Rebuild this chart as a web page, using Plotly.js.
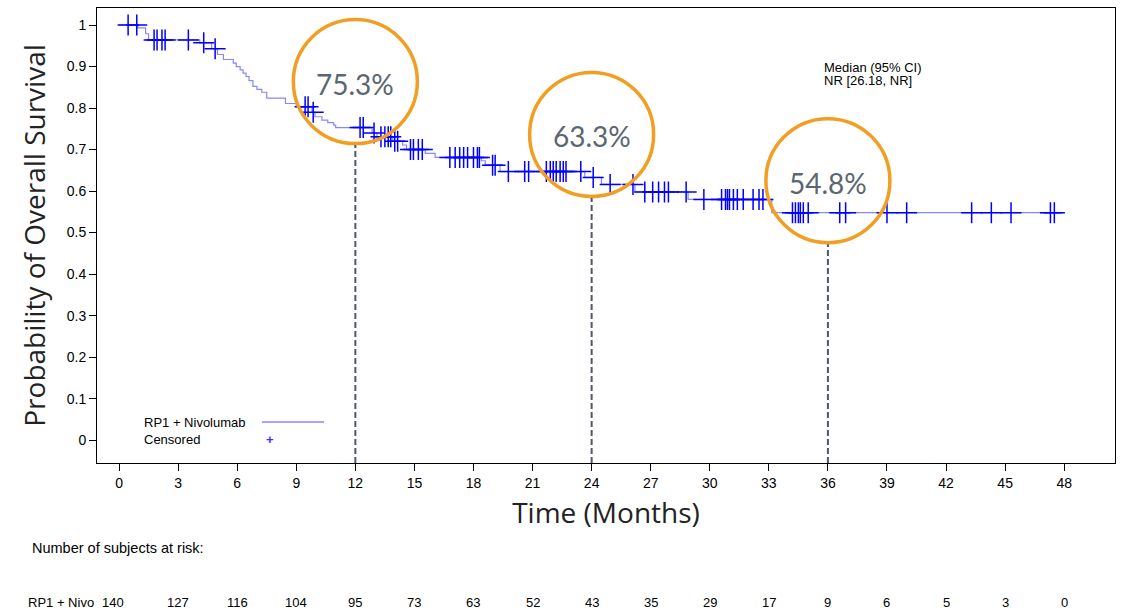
<!DOCTYPE html>
<html>
<head>
<meta charset="utf-8">
<script src="https://cdn.plot.ly/plotly-3.0.1.min.js"></script>
<style>
  html, body { margin: 0; padding: 0; background: #ffffff; }
  #chart { width: 1122px; height: 611px; }
</style>
</head>
<body>
<div id="chart"></div>
<script>
// Kaplan-Meier estimate: step times (months) and survival after each step
const survTime = [0, 0.95, 1.35, 1.5, 4.1, 4.7, 5.0, 5.3, 5.8, 5.95, 6.15, 6.3, 6.45, 6.6, 6.8, 7.0,
  7.25, 7.5, 8.45, 9.0, 9.8, 9.95, 10.3, 10.6, 10.9, 11.0, 12.85, 13.1, 13.9, 14.4, 14.6, 15.55,
  16.05, 18.4, 18.6, 19.35, 23.65, 24.5, 26.2, 28.9, 33.15, 47.96];
const survProb = [1, 0.993, 0.979, 0.964, 0.957, 0.943, 0.929, 0.917, 0.908, 0.9, 0.892, 0.884,
  0.876, 0.866, 0.852, 0.845, 0.838, 0.824, 0.811, 0.803, 0.79, 0.779, 0.771, 0.765, 0.759, 0.753,
  0.74, 0.731, 0.72, 0.711, 0.7, 0.691, 0.681, 0.673, 0.662, 0.647, 0.633, 0.616, 0.598, 0.58,
  0.548, 0.548];

// Censoring times (months)
const censorTime = [0.46, 0.9, 1.78, 1.93, 2.18, 2.34, 3.52, 4.3, 4.88, 9.45, 9.6, 9.86, 12.24,
  12.4, 12.95, 13.3, 13.5, 13.67, 13.8, 14.0, 14.15, 14.8, 14.95, 15.2, 15.4, 16.8, 17.07, 17.3,
  17.5, 17.7, 18.0, 18.2, 18.3, 18.97, 19.1, 19.77, 20.6, 20.8, 21.7, 21.9, 22.05, 22.2, 22.4,
  22.56, 22.7, 23.45, 24.08, 24.94, 26.1, 26.7, 27.1, 27.4, 27.7, 27.9, 28.8, 29.7, 30.6, 30.8,
  30.9, 31.0, 31.2, 31.4, 31.7, 32.2, 32.5, 32.7, 34.2, 34.35, 34.5, 34.6, 34.75, 35.0, 36.6,
  36.9, 39.0, 40.0, 43.3, 44.3, 45.3, 47.3, 47.5];

// Landmark survival rates
const landmarkTime = [12, 24, 36];
const landmarkProb = [0.753, 0.633, 0.548];

// Number at risk, one per x tick
const riskTime = [0, 3, 6, 9, 12, 15, 18, 21, 24, 27, 30, 33, 36, 39, 42, 45, 48];
const riskCount = [140, 127, 116, 104, 95, 73, 63, 52, 43, 35, 29, 17, 9, 6, 5, 3, 0];

const yTickVals = [0, 0.1, 0.2, 0.3, 0.4, 0.5, 0.6, 0.7, 0.8, 0.9, 1];
const yTickText = ['0', '0.1', '0.2', '0.3', '0.4', '0.5', '0.6', '0.7', '0.8', '0.9', '1'];

// survival value in effect at time t (step function)
function survAt(t) {
  let s = survProb[0];
  for (let i = 0; i < survTime.length; i++) {
    if (survTime[i] <= t) s = survProb[i]; else break;
  }
  return s;
}
const censorProb = censorTime.map(survAt);

const X_RANGE = [-1.12, 50.58];
const Y_RANGE = [-0.055, 1.041];
const M = { l: 97, r: 7, t: 8, b: 148 };
const W = 1122, H = 611;
const plotH = H - M.t - M.b;
const pxPerUnitY = plotH / (Y_RANGE[1] - Y_RANGE[0]);
const paperY = py => (H - M.b - py) / plotH;          // pixel row -> paper y
const paperX = px => (px - M.l) / (W - M.l - M.r);    // pixel column -> paper x

const baseFont = 'Liberation Sans, Arial, sans-serif';
const titleFont = 'Open Sans, Lato, sans-serif';
const pctFont = 'Lato, Inter, sans-serif';

const traces = [
  {
    x: survTime, y: survProb, type: 'scatter', mode: 'lines',
    line: { shape: 'hv', color: 'rgba(70,70,255,0.65)', width: 1.2 },
    hoverinfo: 'skip', showlegend: false
  },
  {
    x: censorTime, y: censorProb, type: 'scatter', mode: 'markers',
    marker: { symbol: 'cross-thin-open', size: 15, color: '#0000ff', line: { color: '#0000ff', width: 1.5 } },
    hoverinfo: 'skip', showlegend: false
  }
];

const CIRCLE_R = 62;
const circleLift = [46, 43, 32];   // pixel offset of circle centre above the landmark point

const shapes = [];
const annotations = [];

landmarkTime.forEach((t, i) => {
  const lift = circleLift[i];
  shapes.push({
    type: 'circle', xref: 'x', yref: 'y', xsizemode: 'pixel', ysizemode: 'pixel',
    xanchor: t, yanchor: landmarkProb[i],
    x0: -CIRCLE_R, x1: CIRCLE_R, y0: lift - CIRCLE_R, y1: lift + CIRCLE_R,
    line: { color: '#f29e22', width: 3.5 }, layer: 'above'
  });
  shapes.push({
    type: 'line', xref: 'x', yref: 'y', x0: t, x1: t,
    y0: Y_RANGE[0], y1: landmarkProb[i] + (lift - CIRCLE_R - 1.5) / pxPerUnitY,
    line: { color: '#4e5a66', width: 2, dash: '6px,3px' }, layer: 'above'
  });
  annotations.push({
    x: t, y: landmarkProb[i], xref: 'x', yref: 'y', yshift: lift - 2,
    text: (landmarkProb[i] * 100).toFixed(1) + '%', showarrow: false,
    xanchor: 'center', yanchor: 'middle',
    font: { family: pctFont, size: 28, color: '#5a6670' }
  });
});

// median annotation
annotations.push({
  x: paperX(822), y: paperY(68), xref: 'paper', yref: 'paper', xanchor: 'left', yanchor: 'middle',
  text: 'Median (95% CI)', showarrow: false, font: { family: baseFont, size: 13, color: '#000' }
});
annotations.push({
  x: paperX(822), y: paperY(80), xref: 'paper', yref: 'paper', xanchor: 'left', yanchor: 'middle',
  text: 'NR [26.18, NR]', showarrow: false, font: { family: baseFont, size: 13, color: '#000' }
});

// legend block
annotations.push({
  x: paperX(142), y: paperY(422), xref: 'paper', yref: 'paper', xanchor: 'left', yanchor: 'middle',
  text: 'RP1 + Nivolumab', showarrow: false, font: { family: baseFont, size: 13, color: '#000' }
});
annotations.push({
  x: paperX(142), y: paperY(439), xref: 'paper', yref: 'paper', xanchor: 'left', yanchor: 'middle',
  text: 'Censored', showarrow: false, font: { family: baseFont, size: 13, color: '#000' }
});
annotations.push({
  x: paperX(270), y: paperY(439), xref: 'paper', yref: 'paper', xanchor: 'center', yanchor: 'middle',
  text: '<b>+</b>', showarrow: false, font: { family: baseFont, size: 13, color: '#3333ff' }
});
shapes.push({
  type: 'line', xref: 'paper', yref: 'paper', x0: paperX(262), x1: paperX(324),
  y0: paperY(422), y1: paperY(422), line: { color: '#4d4dff', width: 1.2 }
});

// risk table
annotations.push({
  x: 0, y: paperY(548), xref: 'paper', yref: 'paper', xanchor: 'left', yanchor: 'middle',
  xshift: 30 - M.l, text: 'Number of subjects at risk:', showarrow: false,
  font: { family: baseFont, size: 14.5, color: '#000' }
});
annotations.push({
  x: 0, y: paperY(602), xref: 'paper', yref: 'paper', xanchor: 'left', yanchor: 'middle',
  xshift: 26 - M.l, text: 'RP1 + Nivo', showarrow: false,
  font: { family: baseFont, size: 13, color: '#000' }
});
riskTime.forEach((t, i) => {
  annotations.push({
    x: t, y: paperY(602), xref: 'x', yref: 'paper', xanchor: 'center', yanchor: 'middle',
    xshift: i === 0 ? -6 : 0,
    text: String(riskCount[i]), showarrow: false,
    font: { family: baseFont, size: 13, color: '#000' }
  });
});

const layout = {
  width: W, height: H,
  margin: M,
  paper_bgcolor: '#ffffff', plot_bgcolor: '#ffffff',
  showlegend: false,
  xaxis: {
    range: X_RANGE, tickmode: 'array', tickvals: riskTime, ticktext: riskTime.map(String),
    ticks: 'outside', ticklen: 7, tickwidth: 1, tickcolor: '#000',
    showline: true, linecolor: '#000', linewidth: 1, mirror: true,
    showgrid: false, zeroline: false,
    tickfont: { family: baseFont, size: 14, color: '#000' },
    title: { text: 'Time (Months)', font: { family: titleFont, size: 28, color: '#222' }, standoff: 13 },
    automargin: false
  },
  yaxis: {
    range: Y_RANGE, tickmode: 'array', tickvals: yTickVals, ticktext: yTickText,
    ticks: 'outside', ticklen: 7, tickwidth: 1, tickcolor: '#000',
    showline: true, linecolor: '#000', linewidth: 1, mirror: true,
    showgrid: false, zeroline: false,
    tickfont: { family: baseFont, size: 14, color: '#000' },
    title: { text: 'Probability of Overall Survival', font: { family: titleFont, size: 28, color: '#222' }, standoff: 12 },
    automargin: false
  },
  shapes: shapes,
  annotations: annotations
};

Plotly.newPlot('chart', traces, layout, { staticPlot: true, displayModeBar: false });
</script>
</body>
</html>
